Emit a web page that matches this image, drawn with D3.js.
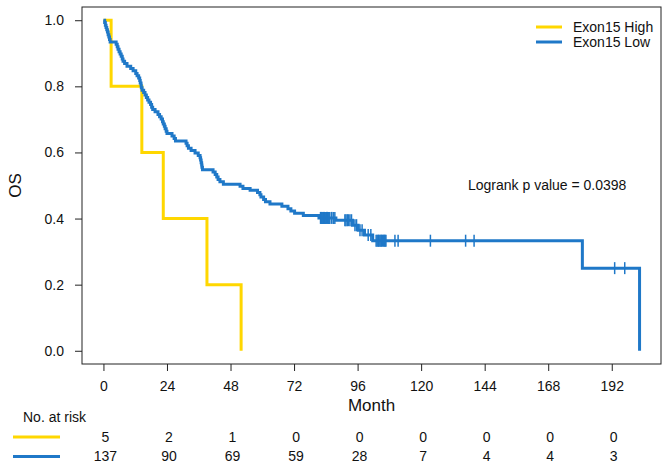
<!DOCTYPE html>
<html>
<head>
<meta charset="utf-8">
<script src="https://cdn.jsdelivr.net/npm/d3@7"></script>
<style>
  html, body { margin: 0; padding: 0; background: #fff; }
  svg { display: block; font-family: "Liberation Sans", Arial, Helvetica, sans-serif; }
</style>
</head>
<body>
<svg id="chart" width="669" height="468"></svg>
<script>
// ---------- data ----------
const xTicks = [0, 24, 48, 72, 96, 120, 144, 168, 192];
const yTicks = [0, 0.2, 0.4, 0.6, 0.8, 1.0];
const groups = ["Exon15 High", "Exon15 Low"];
const colors = ["#FFD700", "#1F78C8"];

const highTimes = [0, 2.9, 14.5, 22.6, 39.1, 52.0];
const highSurv  = [1, 0.8, 0.6, 0.4, 0.2, 0];
const highCensor = [];

const lowTimes = [0,
  0.45, 0.72, 0.98, 1.25, 1.51, 1.77, 2.04, 2.30, 2.53,
  4.8, 5.2, 5.5, 5.9, 6.3, 6.7, 7.1, 7.4, 8.0,
  8.9, 10.3, 11.2, 12.2, 12.7, 13.3, 13.7, 13.9, 14.2, 14.3, 14.6, 15.2, 15.7, 16.2, 16.7, 17.2, 17.8, 18.2, 18.6, 19.5, 20.6, 21.2, 21.8, 22.3, 22.6, 23.0, 23.3, 23.7, 24.0,
  25.9, 26.7, 27.2,
  31.2, 31.6, 32.1, 33.1, 34.6,
  35.8, 36.5, 36.7, 36.9, 37.1, 37.2, 37.4,
  41.4, 42.2, 42.8, 43.3, 44.0, 45.3,
  51.6, 52.7, 55.4, 58.2, 59.1, 59.5, 60.5, 61.2, 62.9,
  67.4, 69.7, 70.8, 72.2, 75.5, 81.4, 87.8, 94.1, 96.2, 98.6, 101.7, 180.9, 202.5];
const lowSurv = [1,
  0.993, 0.985, 0.978, 0.971, 0.964, 0.956, 0.949, 0.942, 0.934,
  0.927, 0.920, 0.912, 0.905, 0.898, 0.891, 0.883, 0.876, 0.869,
  0.861, 0.854, 0.847, 0.839, 0.832, 0.825, 0.818, 0.810, 0.803, 0.796, 0.788, 0.781, 0.774, 0.766, 0.759, 0.752, 0.745, 0.737, 0.730, 0.723, 0.715, 0.708, 0.701, 0.693, 0.686, 0.679, 0.672, 0.664, 0.657,
  0.650, 0.642, 0.635,
  0.628, 0.620, 0.613, 0.606, 0.598,
  0.591, 0.584, 0.577, 0.569, 0.562, 0.555, 0.548,
  0.541, 0.533, 0.526, 0.518, 0.511, 0.504,
  0.498, 0.491, 0.486, 0.479, 0.472, 0.465, 0.458, 0.451, 0.444,
  0.437, 0.430, 0.423, 0.416, 0.409, 0.402, 0.395, 0.380, 0.365, 0.350, 0.333, 0.25, 0];
const lowCensor = [82.0, 82.2, 82.4, 82.6, 82.9, 83.1, 83.3, 83.5, 83.7, 84.0, 84.3, 84.6, 84.9, 85.2, 85.5, 86.2, 86.8, 87.4,
  91.2, 91.6, 92.1, 92.5, 93.1, 93.7,
  95.0, 95.6, 96.9, 97.7, 100.0, 101.0,
  103.0, 103.4, 103.8, 104.0, 104.4, 104.8, 105.0, 105.4, 105.8, 106.1, 106.4, 106.7,
  110.1, 111.3, 123.5, 136.8, 140.0, 193.1, 196.9];

const riskHigh = [5, 2, 1, 0, 0, 0, 0, 0, 0];
const riskLow  = [137, 90, 69, 59, 28, 7, 4, 4, 3];
const pText = "Logrank p value = 0.0398";

// ---------- layout ----------
const svg = d3.select("#chart");
const pL = 82, pR = 661, pT = 7, pB = 364;
const tMax = 202.5;
const x = d3.scaleLinear().domain([-0.04 * tMax, 1.04 * tMax]).range([pL, pR]);
const y = d3.scaleLinear().domain([-0.04, 1.04]).range([pB, pT]);

svg.append("rect").attr("width", 669).attr("height", 468).attr("fill", "#fff");

// axes
const fs = 14;
const yAxis = svg.append("g").attr("transform", `translate(${pL},0)`)
  .call(d3.axisLeft(y).tickValues(yTicks).tickFormat(d3.format(".1f")).tickSize(7).tickPadding(11));
const xAxis = svg.append("g").attr("transform", `translate(0,${pB})`)
  .call(d3.axisBottom(x).tickValues(xTicks).tickSize(7).tickPadding(10));
[yAxis, xAxis].forEach(g => {
  g.select(".domain").remove();
  g.selectAll("line").attr("stroke", "#222");
  g.selectAll("text").attr("font-size", fs).attr("fill", "#111")
    .attr("font-family", '"Liberation Sans", Arial, sans-serif');
});

// box
svg.append("rect").attr("x", pL).attr("y", pT).attr("width", pR - pL).attr("height", pB - pT)
  .attr("fill", "none").attr("stroke", "#222").attr("stroke-width", 1);

// axis titles
svg.append("text").attr("x", (pL + pR) / 2).attr("y", 405).attr("dy", "0.35em")
  .attr("text-anchor", "middle").attr("font-size", 17).attr("fill", "#111").text("Month");
svg.append("text").attr("transform", `translate(15,${(pT + pB) / 2}) rotate(-90)`)
  .attr("dy", "0.35em").attr("text-anchor", "middle").attr("font-size", 17).attr("fill", "#111").text("OS");

// curves
const line = d3.line().x(d => x(d[0])).y(d => y(d[1])).curve(d3.curveStepAfter);
function stepAt(times, surv, t) {
  let s = 1;
  for (let i = 0; i < times.length; i++) { if (times[i] <= t) s = surv[i]; }
  return s;
}
const series = [
  { times: highTimes, surv: highSurv, cens: highCensor, color: colors[0] },
  { times: lowTimes, surv: lowSurv, cens: lowCensor, color: colors[1] }
];
series.forEach(sr => {
  const pts = sr.times.map((t, i) => [t, sr.surv[i]]);
  svg.append("path").attr("d", line(pts)).attr("fill", "none")
    .attr("stroke", sr.color).attr("stroke-width", 3).attr("stroke-linejoin", "miter").attr("stroke-linecap", "butt");
  svg.append("g").selectAll("line").data(sr.cens).join("line")
    .attr("x1", d => x(d)).attr("x2", d => x(d))
    .attr("y1", d => y(stepAt(sr.times, sr.surv, d)) - 6)
    .attr("y2", d => y(stepAt(sr.times, sr.surv, d)) + 6)
    .attr("stroke", sr.color).attr("stroke-width", 1.5);
});

// legend
groups.forEach((g, i) => {
  const ly = 27 + i * 15;
  svg.append("line").attr("x1", 536).attr("x2", 562).attr("y1", ly).attr("y2", ly)
    .attr("stroke", colors[i]).attr("stroke-width", 3);
  svg.append("text").attr("x", 573).attr("y", ly).attr("dy", "0.35em")
    .attr("font-size", 14).attr("fill", "#111").text(g);
});

// p value
svg.append("text").attr("x", 468).attr("y", 185).attr("dy", "0.35em")
  .attr("font-size", 14).attr("fill", "#111").text(pText);

// risk table
svg.append("text").attr("x", 23).attr("y", 417).attr("dy", "0.35em")
  .attr("font-size", 14).attr("fill", "#111").text("No. at risk");
[riskHigh, riskLow].forEach((row, i) => {
  const ry = 437 + i * 19.5;
  svg.append("line").attr("x1", 13).attr("x2", 60).attr("y1", ry).attr("y2", ry)
    .attr("stroke", colors[i]).attr("stroke-width", 3);
  svg.append("g").selectAll("text").data(row).join("text")
    .attr("x", (d, j) => x(xTicks[j]) + 2).attr("y", ry).attr("dy", "0.35em")
    .attr("text-anchor", "middle").attr("font-size", 14).attr("fill", "#111").text(d => d);
});
</script>
</body>
</html>
